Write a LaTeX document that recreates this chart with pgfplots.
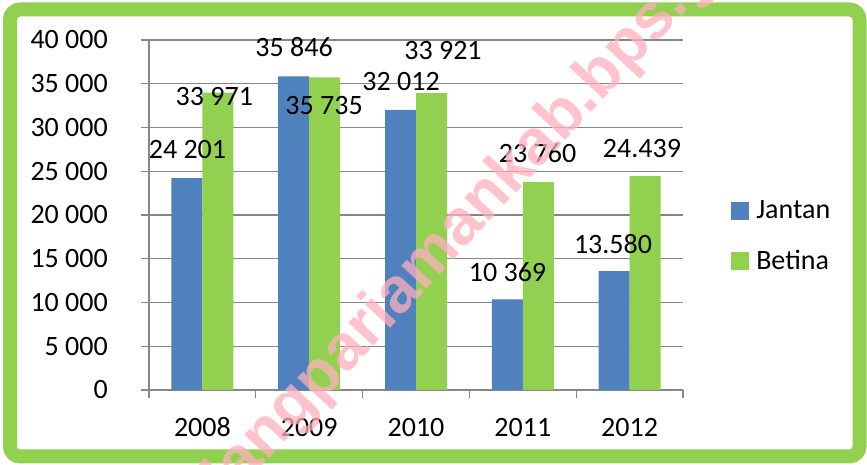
\documentclass[border=0pt]{standalone}
\usepackage{fontspec}
\setmainfont{Carlito}
\newfontfamily\wmfont{Liberation Sans}
\usepackage{pgfplots}
\pgfplotsset{compat=1.18}
\definecolor{cblue}{HTML}{4F81BD}
\definecolor{cgreen}{HTML}{92D050}
\definecolor{gridgray}{HTML}{868686}
\definecolor{wmpink}{RGB}{255,175,190}
\begin{document}
\begin{tikzpicture}[x=1pt,y=1pt]
\useasboundingbox (0,0) rectangle (867,465);
\fill[white] (0,0) rectangle (867,465);
\draw[line width=14pt, color=cgreen, rounded corners=10pt] (10,8.5) rectangle (859.5,455.5);
\begin{axis}[
  at={(149pt,75pt)}, anchor=south west,
  width=534pt, height=350pt, scale only axis,
  ymin=0, ymax=40000, xmin=-0.5, xmax=4.5,
  scaled y ticks=false,
  ybar=0pt, bar width=31pt,
  axis lines=left,
  axis line style={-, draw=gridgray, line width=1.3pt},
  ymajorgrids, grid style={gridgray, line width=1.3pt},
  tick style={gridgray, line width=1.3pt},
  tick align=outside, major tick length=8pt,
  ytick={0,5000,10000,15000,20000,25000,30000,35000,40000},
  yticklabels={0,5 000,10 000,15 000,20 000,25 000,30 000,35 000,40 000},
  xtick={-0.5,0.5,1.5,2.5,3.5,4.5},
  xticklabels={2008,2009,2010,2011,2012},
  x tick label as interval,
  font=\fontsize{28}{34}\selectfont,
  yticklabel style={anchor=east, inner sep=0pt, xshift=-33pt},
  xticklabel style={anchor=base, inner sep=0pt, yshift=-39pt},
  legend style={at={(1.09,0.44)}, anchor=west, draw=none, fill=none,
    inner sep=0pt, font=\fontsize{28}{34}\selectfont, row sep=26pt,
    legend cell align=left,
    /tikz/every odd column/.append style={column sep=5pt}},
  legend image code/.code={\fill[#1] (0pt,-9pt) rectangle (18pt,9pt);},
  clip=false,
]
\addplot[fill=cblue, draw=none] coordinates {(0,24201) (1,35846) (2,32012) (3,10369) (4,13580)};
\addplot[fill=cgreen, draw=none] coordinates {(0,33971) (1,35735) (2,33921) (3,23760) (4,24439)};
\legend{Jantan,Betina}
\begin{scope}[every node/.style={anchor=base, inner sep=0pt, font=\fontsize{28}{34}\selectfont}]
\node at (axis cs:-0.140,26400) {24 201};
\node at (axis cs:0.112,32457) {33 971};
\node at (axis cs:0.858,38057) {35 846};
\node at (axis cs:1.139,31429) {35 735};
\node at (axis cs:1.860,34171) {32 012};
\node at (axis cs:2.253,37714) {33 921};
\node at (axis cs:2.857,12343) {10 369};
\node at (axis cs:3.138,25943) {23 760};
\node at (axis cs:3.845,15543) {13.580};
\node at (axis cs:4.116,26514) {24.439};
\end{scope}
\end{axis}
\begin{scope}
\clip (0,0) rectangle (867,465);
\node[rotate=47, text=wmpink, opacity=0.75, font=\wmfont\bfseries\fontsize{64}{72}\selectfont, inner sep=0pt] at (467.6,243.7) {padangpariamankab.bps.go.id};
\end{scope}
\end{tikzpicture}
\end{document}
